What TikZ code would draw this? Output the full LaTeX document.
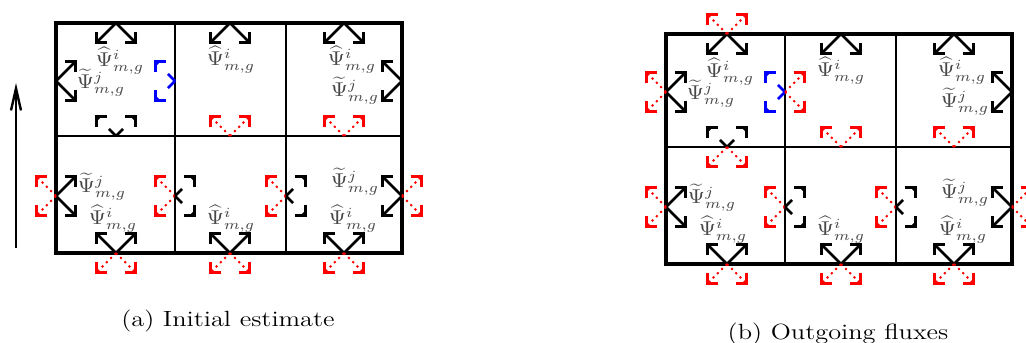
\documentclass[tikz,border=0pt]{standalone}
\usepackage{graphicx}
\usetikzlibrary{arrows.meta}
\tikzset{
  fluxline/.style={line width=1.35pt, -{Straight Barb[angle=90:5.3pt, line width=1.6pt]}},
  outflux/.style={fluxline, draw=black},
  dashflux/.style={fluxline, draw=black, dash pattern=on 5pt off 7pt},
  blueflux/.style={fluxline, draw=blue, dash pattern=on 5pt off 7pt},
  redflux/.style={line width=1pt, draw=red, dotted, -{Straight Barb[angle=90:5.3pt, line width=1.7pt]}},
  lab/.style={text=black!72, inner sep=0pt},
  cellline/.style={line width=1pt},
  frameline/.style={line width=2pt},
  caption/.style={anchor=base, inner sep=0pt, font=\fontsize{11}{13}\selectfont},
}
\newcommand\fluxUp[2]{\draw[#1] (#2) -- ++(-21,-21); \draw[#1] (#2) -- ++(21,-21);}
\newcommand\fluxDown[2]{\draw[#1] (#2) -- ++(-21,21); \draw[#1] (#2) -- ++(21,21);}
\newcommand\fluxLeft[2]{\draw[#1] (#2) -- ++(-21,-21); \draw[#1] (#2) -- ++(-21,21);}
\newcommand\fluxRight[2]{\draw[#1] (#2) -- ++(21,-21); \draw[#1] (#2) -- ++(21,21);}
\newcommand\hatlab[2]{\node[lab] (#1) at (#2) {\scalebox{1.1}[1]{$\widehat{\Psi}^i_{m,g}$}};}
\newcommand\tildelab[2]{\node[lab] (#1) at (#2) {\scalebox{1.1}[1]{$\widetilde{\Psi}^j_{m,g}$}};}
\begin{document}
\begin{tikzpicture}[x=0.5pt, y=-0.5pt]
\useasboundingbox (0,0) rectangle (1026,342);
% ---------------- panel (a) ----------------
\draw[cellline] (175,23) -- (175,253) (286,23) -- (286,253) (56,136) -- (402,136);
\draw[frameline] (56,23) rectangle (402,253);
\coordinate (a00T) at (116,23);
\coordinate (a00L) at (56,81);
\coordinate (a00R) at (175,81);
\coordinate (a00B) at (116,136);
\coordinate (a01T) at (230,23);
\coordinate (a01B) at (230,136);
\coordinate (a02T) at (344,23);
\coordinate (a02R) at (402,81);
\coordinate (a02B) at (344,136);
\coordinate (a10L) at (56,196);
\coordinate (a10B) at (116,253);
\coordinate (a10R) at (175,196);
\coordinate (a11R) at (286,196);
\coordinate (a11B) at (230,253);
\coordinate (a12R) at (402,196);
\coordinate (a12B) at (344,253);
\fluxDown{outflux}{a00T}
\fluxRight{outflux}{a00L}
\fluxLeft{blueflux}{a00R}
\fluxUp{dashflux}{a00B}
\fluxDown{outflux}{a01T}
\fluxUp{redflux}{a01B}
\fluxDown{outflux}{a02T}
\fluxLeft{outflux}{a02R}
\fluxUp{redflux}{a02B}
\fluxRight{outflux}{a10L}
\fluxLeft{redflux}{a10L}
\fluxUp{outflux}{a10B}
\fluxDown{redflux}{a10B}
\fluxLeft{redflux}{a10R}
\fluxRight{dashflux}{a10R}
\fluxLeft{redflux}{a11R}
\fluxRight{dashflux}{a11R}
\fluxUp{outflux}{a11B}
\fluxDown{redflux}{a11B}
\fluxLeft{outflux}{a12R}
\fluxRight{redflux}{a12R}
\fluxUp{outflux}{a12B}
\fluxDown{redflux}{a12B}
\hatlab{ah00}{120,61}
\tildelab{at00}{101,83}
\hatlab{ah01}{231,60}
\hatlab{ah02}{352,60}
\tildelab{at02}{355,91}
\tildelab{at10}{102,187}
\hatlab{ah10}{113,219}
\hatlab{ah11}{231,219}
\tildelab{at12}{355,182}
\hatlab{ah12}{353,219}
\coordinate (ya) at (16,248);
\coordinate (yb) at (16,83);
\draw[line width=1.2pt, -{Straight Barb[length=11pt, width=5pt, line width=1.2pt]}] (ya) -- (yb);
\node[caption] (capa) at (228,326.5) {\scalebox{1.2}[1]{(a) Initial estimate}};
% ---------------- panel (b) ----------------
\draw[cellline] (785,34) -- (785,264) (896,34) -- (896,264) (666,147) -- (1012,147);
\draw[frameline] (666,34) rectangle (1012,264);
\coordinate (b00T) at (727,34);
\coordinate (b00L) at (666,92);
\coordinate (b00R) at (785,92);
\coordinate (b00B) at (727,147);
\coordinate (b01T) at (841,34);
\coordinate (b01B) at (841,147);
\coordinate (b02T) at (954,34);
\coordinate (b02R) at (1012,92);
\coordinate (b02B) at (954,147);
\coordinate (b10L) at (666,207);
\coordinate (b10B) at (727,264);
\coordinate (b10R) at (785,207);
\coordinate (b11R) at (896,207);
\coordinate (b11B) at (841,264);
\coordinate (b12R) at (1012,207);
\coordinate (b12B) at (954,264);
\fluxDown{outflux}{b00T}
\fluxUp{redflux}{b00T}
\fluxRight{outflux}{b00L}
\fluxLeft{redflux}{b00L}
\fluxLeft{blueflux}{b00R}
\fluxRight{redflux}{b00R}
\fluxUp{dashflux}{b00B}
\fluxDown{redflux}{b00B}
\fluxDown{outflux}{b01T}
\fluxUp{redflux}{b01B}
\fluxDown{outflux}{b02T}
\fluxLeft{outflux}{b02R}
\fluxUp{redflux}{b02B}
\fluxRight{outflux}{b10L}
\fluxLeft{redflux}{b10L}
\fluxUp{outflux}{b10B}
\fluxDown{redflux}{b10B}
\fluxLeft{redflux}{b10R}
\fluxRight{dashflux}{b10R}
\fluxLeft{redflux}{b11R}
\fluxRight{dashflux}{b11R}
\fluxUp{outflux}{b11B}
\fluxDown{redflux}{b11B}
\fluxLeft{outflux}{b12R}
\fluxRight{redflux}{b12R}
\fluxUp{outflux}{b12B}
\fluxDown{redflux}{b12B}
\hatlab{bh00}{730,72}
\tildelab{bt00}{711,94}
\hatlab{bh01}{841,71}
\hatlab{bh02}{962,71}
\tildelab{bt02}{965,102}
\tildelab{bt10}{712,198}
\hatlab{bh10}{723,230}
\hatlab{bh11}{841,230}
\tildelab{bt12}{965,193}
\hatlab{bh12}{963,230}
\node[caption] (capb) at (838,339.5) {\scalebox{1.2}[1]{(b) Outgoing fluxes}};
\end{tikzpicture}
\end{document}
